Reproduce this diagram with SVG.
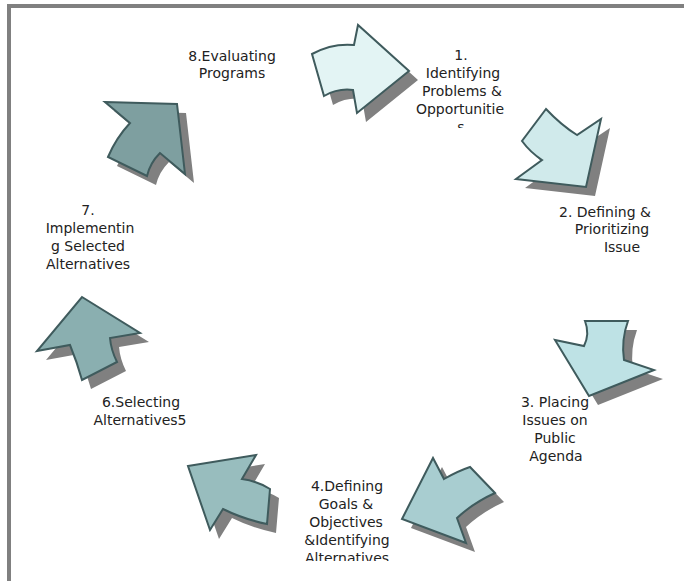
<svg xmlns="http://www.w3.org/2000/svg" xmlns:xlink="http://www.w3.org/1999/xlink" width="684" height="581" viewBox="0 0 684 581">
  <style>
    .lbl { font-family: "DejaVu Sans", Verdana, sans-serif; font-size: 14px; fill: #222222; text-anchor: middle; }
    .shadow { fill: #808080; }
    .arrow { stroke: #3F5B5D; stroke-width: 2; stroke-linejoin: miter; }
  </style>
  <defs>
    <!-- block arrows of the cycle, in page coordinates -->
    <path id="a1" d="M312,54 Q332,43 354,45 L358,25 L409,71 L357,113 L353,90 Q338,88 324,96 Z"/>
    <path id="a2" d="M546,109 Q561,125 577,135 L601,119 L586,187 L516,179 L542,160 Q530,152 522,141 Z"/>
    <path id="a3" d="M585,321 L628,321 Q621,340 624,360 L654,370 L589,396 L555,340 L584,346 Q590,334 585,321 Z"/>
    <path id="a4" d="M402,519 L433,458 L444,479 Q458,471 470,467 L495,493 Q473,503 457,518 L466,543 Z"/>
    <path id="a5" d="M188,466 L256,455 L242,479 Q257,481 270,489 L267,524 Q243,519 223,509 L210,530 Z"/>
    <path id="a6" d="M82,297 L140,333 L110,338 Q111,350 117,362 L82,380 Q77,362 70,345 L37,351 Z"/>
    <path id="a7" d="M105,102 L177,104 L185,174 L160,153 Q150,163 147,176 L108,157 Q116,138 130,123 Z"/>
    <clipPath id="clip1"><rect x="400" y="40" width="130" height="88"/></clipPath>
    <clipPath id="clip4"><rect x="280" y="470" width="140" height="91"/></clipPath>
  </defs>

  <rect width="684" height="581" fill="#FFFFFF"/>
  <!-- frame -->
  <rect x="9" y="6" width="700" height="600" fill="none" stroke="#808080" stroke-width="4"/>

  <!-- cycle arrows -->
  <g id="connectors">
    <g id="arrow-1-2">
      <use xlink:href="#a1" class="shadow" transform="translate(9,9)"/>
      <use xlink:href="#a1" class="arrow" fill="#E3F4F4"/>
    </g>
    <g id="arrow-2-3">
      <use xlink:href="#a2" class="shadow" transform="translate(9,9)"/>
      <use xlink:href="#a2" class="arrow" fill="#D0EAEB"/>
    </g>
    <g id="arrow-3-4">
      <use xlink:href="#a3" class="shadow" transform="translate(9,9)"/>
      <use xlink:href="#a3" class="arrow" fill="#BEE2E5"/>
    </g>
    <g id="arrow-4-6">
      <use xlink:href="#a4" class="shadow" transform="translate(9,9)"/>
      <use xlink:href="#a4" class="arrow" fill="#A8CDD0"/>
    </g>
    <g id="arrow-6-7a">
      <use xlink:href="#a5" class="shadow" transform="translate(9,9)"/>
      <use xlink:href="#a5" class="arrow" fill="#98BDBE"/>
    </g>
    <g id="arrow-6-7b">
      <use xlink:href="#a6" class="shadow" transform="translate(9,9)"/>
      <use xlink:href="#a6" class="arrow" fill="#8AAFB0"/>
    </g>
    <g id="arrow-7-8">
      <use xlink:href="#a7" class="shadow" transform="translate(9,9)"/>
      <use xlink:href="#a7" class="arrow" fill="#7E9FA0"/>
    </g>
  </g>

  <!-- step labels -->
  <g id="step8">
    <text class="lbl" x="232" y="61">8.Evaluating</text>
    <text class="lbl" x="232" y="78">Programs</text>
  </g>
  <g id="step1" clip-path="url(#clip1)">
    <text class="lbl" x="461" y="60">1.</text>
    <text class="lbl" x="463" y="78">Identifying</text>
    <text class="lbl" x="462" y="96">Problems &amp;</text>
    <text class="lbl" x="460" y="114">Opportunitie</text>
    <text class="lbl" x="461" y="132">s</text>
  </g>
  <g id="step2">
    <text class="lbl" x="605" y="217">2. Defining &amp;</text>
    <text class="lbl" x="612" y="234">Prioritizing</text>
    <text class="lbl" x="622" y="252">Issue</text>
  </g>
  <g id="step3">
    <text class="lbl" x="555" y="407">3. Placing</text>
    <text class="lbl" x="555" y="425">Issues on</text>
    <text class="lbl" x="555" y="443">Public</text>
    <text class="lbl" x="556" y="461">Agenda</text>
  </g>
  <g id="step4" clip-path="url(#clip4)">
    <text class="lbl" x="347" y="491">4.Defining</text>
    <text class="lbl" x="346" y="509">Goals &amp;</text>
    <text class="lbl" x="346" y="527">Objectives</text>
    <text class="lbl" x="347" y="545">&amp;Identifying</text>
    <text class="lbl" x="347" y="563">Alternatives</text>
  </g>
  <g id="step6">
    <text class="lbl" x="141" y="407">6.Selecting</text>
    <text class="lbl" x="140" y="425">Alternatives5</text>
  </g>
  <g id="step7">
    <text class="lbl" x="88" y="215">7.</text>
    <text class="lbl" x="90" y="233">Implementin</text>
    <text class="lbl" x="88" y="251">g Selected</text>
    <text class="lbl" x="88" y="269">Alternatives</text>
  </g>
</svg>
